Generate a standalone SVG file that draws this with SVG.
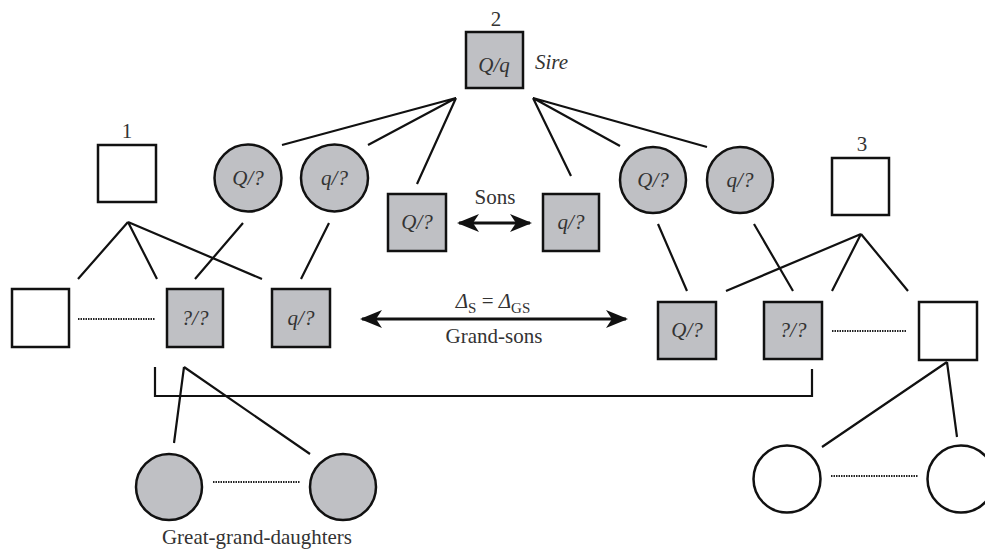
<svg xmlns="http://www.w3.org/2000/svg" width="985" height="550" viewBox="0 0 985 550">
<defs>
<style>
.g{fill:#bfc0c4;stroke:#111;stroke-width:2.5}
.w{fill:#fff;stroke:#111;stroke-width:2.5}
.ln{stroke:#111;stroke-width:2.2;fill:none}
.dot{stroke:#222;stroke-width:2;stroke-dasharray:1.5 1;fill:none}
.ar{stroke:#111;stroke-width:3;fill:none}
text{font-family:"Liberation Serif","Times New Roman",serif;font-size:21px;fill:#333}
.i{font-style:italic}
.c{text-anchor:middle}
</style>
<marker id="ah" viewBox="0 0 22 18" refX="20" refY="9" markerWidth="22" markerHeight="18" markerUnits="userSpaceOnUse" orient="auto-start-reverse">
<path d="M0,0 L22,9 L0,18 L6,9 Z" fill="#111"/>
</marker>
</defs>
<rect width="985" height="550" fill="#fff"/>
<g id="connectors">
<path class="ln" d="M456,98 L282,145 M456,98 L368,145 M456,98 L417,184"/>
<path class="ln" d="M533,98 L620,146 M533,98 L707,147 M533,98 L571,176"/>
<path class="ln" d="M128,222 L78,279 M128,222 L157,279 M128,222 L262,279"/>
<path class="ln" d="M243,223 L195,279 M329,223 L301,279"/>
<path class="ln" d="M658,224 L687,291 M754,224 L793,291"/>
<path class="ln" d="M861,234 L726,291 M861,234 L832,291 M861,234 L908,291"/>
<path class="ln" d="M155,367 V396 H812 V369"/>
<path class="ln" d="M184,367 L174,443 M184,367 L310,454"/>
<path class="ln" d="M947,362 L822,447 M947,362 L957,437"/>
<path class="dot" d="M78,319 H155"/>
<path class="dot" d="M832,331 H907"/>
<path class="dot" d="M213,482 H300"/>
<path class="dot" d="M831,476 H918"/>
<path class="ar" d="M459,223 H530" marker-start="url(#ah)" marker-end="url(#ah)"/>
<path class="ar" d="M362,319 H626" marker-start="url(#ah)" marker-end="url(#ah)"/>
</g>
<g id="sire"><rect class="g" x="466" y="32" width="57" height="56"/><text class="c" x="496" y="26">2</text><text class="i c" x="494" y="72">Q/q</text><text class="i" x="535" y="69">Sire</text></g>
<g id="p1"><rect class="w" x="98" y="145" width="58" height="57"/><text class="c" x="127" y="138">1</text></g>
<g id="p3"><rect class="w" x="832" y="158" width="57" height="57"/><text class="c" x="862" y="151">3</text></g>
<g id="d1"><circle class="g" cx="248" cy="178" r="33.5"/><text class="i c" x="248" y="185">Q/?</text></g>
<g id="d2"><circle class="g" cx="334.5" cy="178" r="33.5"/><text class="i c" x="334.5" y="185">q/?</text></g>
<g id="d3"><circle class="g" cx="653" cy="180" r="33"/><text class="i c" x="653" y="187">Q/?</text></g>
<g id="d4"><circle class="g" cx="740" cy="180" r="33"/><text class="i c" x="740" y="187">q/?</text></g>
<g id="s1"><rect class="g" x="388" y="194" width="58" height="57"/><text class="i c" x="417" y="229">Q/?</text></g>
<g id="s2"><rect class="g" x="543" y="194" width="56" height="57"/><text class="i c" x="571" y="229">q/?</text></g>
<text class="c" x="495" y="204">Sons</text>
<g id="gs0"><rect class="w" x="12" y="289" width="57" height="58"/></g>
<g id="gs1"><rect class="g" x="167" y="289" width="56" height="58"/><text class="i c" x="195" y="325">?/?</text></g>
<g id="gs2"><rect class="g" x="272" y="289" width="58" height="58"/><text class="i c" x="301" y="325">q/?</text></g>
<g id="gs3"><rect class="g" x="658" y="302" width="58" height="57"/><text class="i c" x="687" y="337">Q/?</text></g>
<g id="gs4"><rect class="g" x="764" y="302" width="58" height="57"/><text class="i c" x="793" y="337">?/?</text></g>
<g id="gs5"><rect class="w" x="919" y="302" width="58" height="58"/></g>
<text class="c" x="493" y="308"><tspan class="i">Δ</tspan><tspan font-size="15" dy="5">S</tspan><tspan dy="-5"> = </tspan><tspan class="i">Δ</tspan><tspan font-size="15" dy="5">GS</tspan></text>
<text class="c" x="494" y="343">Grand-sons</text>
<g id="ggd1"><circle class="g" cx="169" cy="487" r="33"/></g>
<g id="ggd2"><circle class="g" cx="343" cy="487" r="33"/></g>
<g id="ggd3"><circle class="w" cx="787" cy="479" r="33.5"/></g>
<g id="ggd4"><circle class="w" cx="961" cy="479" r="33.5"/></g>
<text class="c" x="257" y="544">Great-grand-daughters</text>
</svg>
